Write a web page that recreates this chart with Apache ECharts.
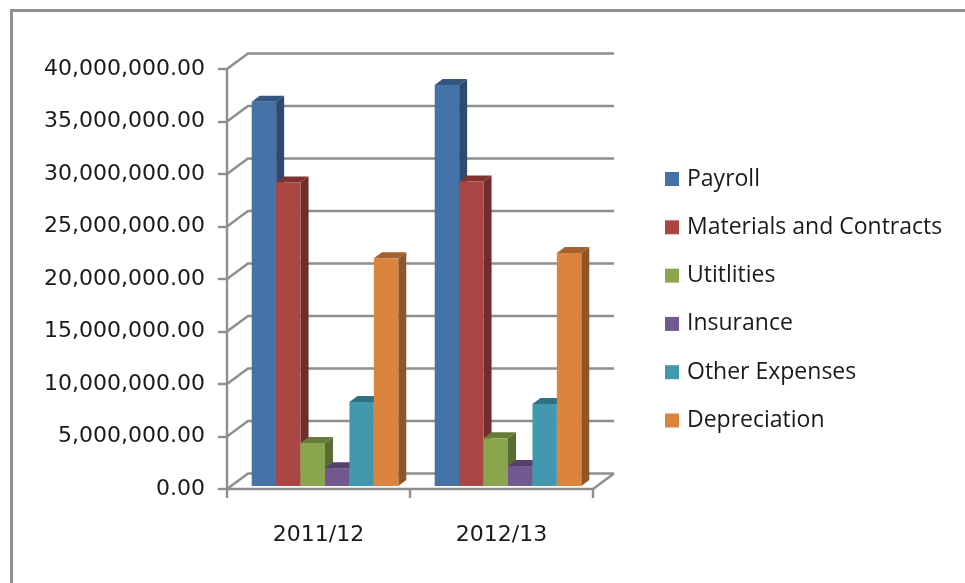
<!DOCTYPE html>
<html><head><meta charset="utf-8">
<style>html,body{margin:0;padding:0;background:#fff;overflow:hidden}#c{width:965px;height:583px;filter:blur(0.5px)}</style>
<script src="https://cdn.jsdelivr.net/npm/echarts@6/dist/echarts.min.js"></script>
</head><body><div id="c"></div>
<script>
const categories = ['2011/12', '2012/13'];
const seriesNames = ['Payroll', 'Materials and Contracts', 'Utitlities', 'Insurance', 'Other Expenses', 'Depreciation'];
const payroll = [36600000, 38200000];
const materials = [28900000, 29000000];
const utilities = [4100000, 4550000];
const insurance = [1700000, 1900000];
const otherExpenses = [8000000, 7800000];
const depreciation = [21700000, 22200000];
const yTicks = [0, 5000000, 10000000, 15000000, 20000000, 25000000, 30000000, 35000000, 40000000];
const seriesValues = [payroll, materials, utilities, insurance, otherExpenses, depreciation];

const faceColors = ['#4572A7', '#AA4643', '#89A54E', '#71588F', '#4198AF', '#DB843D'];
const sideColors = ['#2D4A6E', '#6F2D2B', '#596C32', '#49395D', '#2A6372', '#8F5628'];
const topColors = ['#34557D', '#803432', '#677B3A', '#54416B', '#307183', '#A46230'];
const WALL_DX = 21, WALL_DY = -15.5;
const BAR_SHIFT_X = 6.5, BAR_SHIFT_Y = -3;
const DEPTH_X = 8, DEPTH_Y = -6;
const GRID_COLOR = '#8E8E8E';
const FONT = 'DejaVu Sans';

const wallSeries = {
  type: 'custom', name: 'wall', silent: true, z: 1, legendHoverLink: false,
  data: yTicks.map(v => [0, v]),
  encode: {x: 0, y: 1},
  renderItem(params, api) {
    const cs = params.coordSys;
    const y = api.coord([0, api.value(1)])[1];
    const xl = cs.x, xr = cs.x + cs.width;
    const children = [{
      type: 'polyline',
      shape: {points: [[xl, y], [xl + WALL_DX, y + WALL_DY], [xr + WALL_DX, y + WALL_DY]]},
      style: {stroke: GRID_COLOR, lineWidth: 2.4, fill: null}
    }];
    if (api.value(1) === 0) children.push({
      type: 'line',
      shape: {x1: xr, y1: y, x2: xr + WALL_DX, y2: y + WALL_DY},
      style: {stroke: GRID_COLOR, lineWidth: 2.4}
    });
    return {type: 'group', children};
  }
};

const barSeries = seriesNames.map((name, i) => ({
  type: 'custom', name, z: 2 + i,
  itemStyle: {color: faceColors[i]},
  data: seriesValues[i].map((v, c) => [c, v]),
  encode: {x: 0, y: 1},
  renderItem(params, api) {
    const c = api.value(0), v = api.value(1);
    const base = api.coord([c, 0]), top = api.coord([c, v]);
    const w = api.size([1, 0])[0] * 0.1335;
    const x0 = base[0] + (i - 3) * w + BAR_SHIFT_X, x1 = x0 + w;
    const yb = base[1] + BAR_SHIFT_Y, yt = top[1] + BAR_SHIFT_Y;
    const dx = DEPTH_X, dy = DEPTH_Y;
    return {type: 'group', children: [
      {type: 'polygon', shape: {points: [[x1, yb], [x1 + dx, yb + dy], [x1 + dx, yt + dy], [x1, yt]]}, style: {fill: sideColors[i]}},
      {type: 'polygon', shape: {points: [[x0, yt], [x0 + dx, yt + dy], [x1 + dx, yt + dy], [x1, yt]]}, style: {fill: topColors[i]}},
      {type: 'rect', shape: {x: x0, y: yt, width: w, height: yb - yt}, style: {fill: faceColors[i]}}
    ]};
  }
}));

const chart = echarts.init(document.getElementById('c'), null, {renderer: 'canvas'});
chart.setOption({
  animation: false,
  backgroundColor: '#fff',
  grid: {left: 227, right: 372, top: 69, bottom: 94},
  xAxis: {
    type: 'category', data: categories,
    axisLine: {lineStyle: {color: GRID_COLOR, width: 2.4}},
    axisTick: {show: true, length: 9, lineStyle: {color: GRID_COLOR, width: 2.4}},
    axisLabel: {color: '#1a1a1a', fontFamily: FONT, fontSize: 22, margin: 35}
  },
  yAxis: {
    type: 'value', min: 0, max: 40000000, interval: 5000000,
    splitLine: {show: false},
    axisLine: {show: true, lineStyle: {color: GRID_COLOR, width: 2.4}},
    axisTick: {show: true, length: 9, lineStyle: {color: GRID_COLOR, width: 2.4}},
    axisLabel: {color: '#1a1a1a', fontFamily: FONT, fontSize: 22, margin: 22, padding: [6, 0, 0, 0],
      formatter: v => v.toLocaleString('en-US', {minimumFractionDigits: 2, maximumFractionDigits: 2})}
  },
  legend: {
    data: seriesNames, orient: 'vertical', left: 665, top: 167, padding: 0,
    icon: 'rect', itemWidth: 14, itemHeight: 14, itemGap: 24.3,
    selectedMode: false,
    textStyle: {color: '#1a1a1a', fontFamily: 'Open Sans', fontSize: 23, padding: [0, 0, 0, 3], lineHeight: 24}
  },
  graphic: [
    {type: 'rect', silent: true, shape: {x: 10, y: 9, width: 955, height: 3}, style: {fill: '#909090'}},
    {type: 'rect', silent: true, shape: {x: 10, y: 9, width: 3, height: 574}, style: {fill: '#909090'}}
  ],
  series: [wallSeries].concat(barSeries)
});
</script></body></html>
